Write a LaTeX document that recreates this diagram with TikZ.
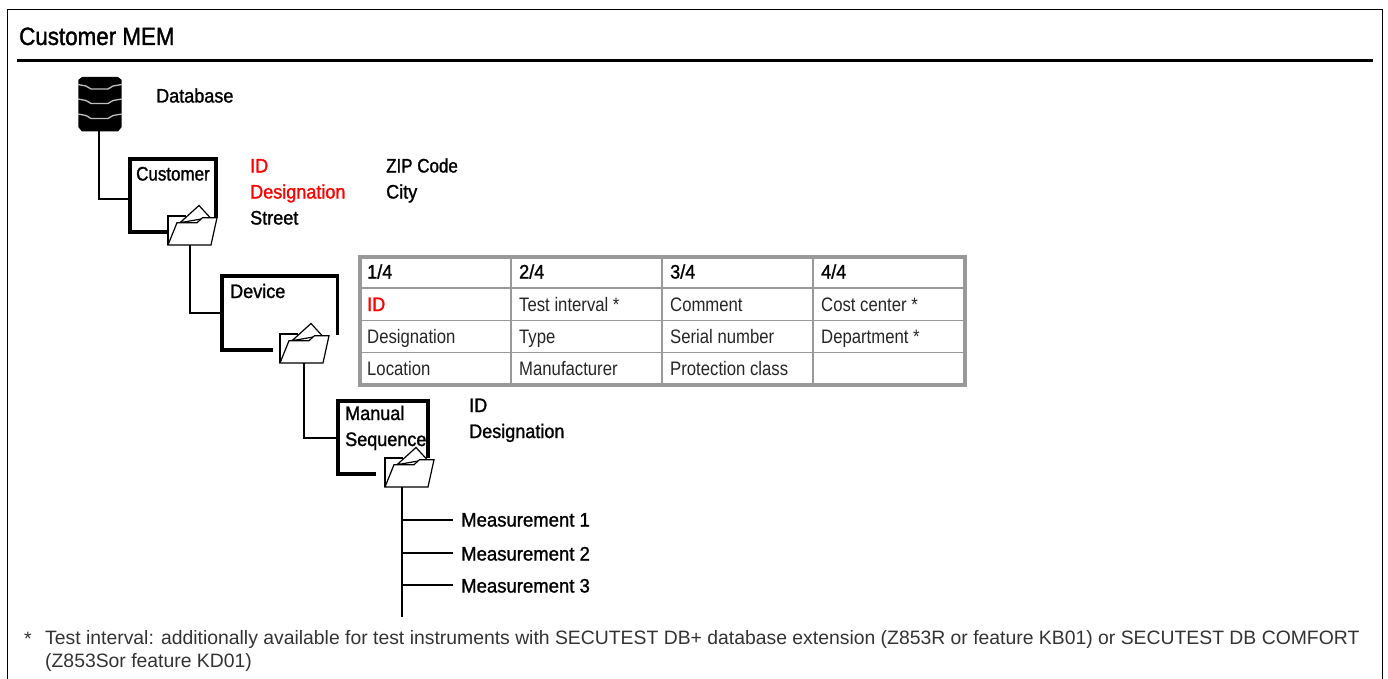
\documentclass[tikz,border=0pt]{standalone}
\usepackage{fontspec}
\setmainfont{Liberation Sans}
\newfontfamily\lblfont[FakeStretch=0.925,FakeBold=1.3]{Liberation Sans}
\newfontfamily\lblnarrow[FakeStretch=0.87,FakeBold=1.3]{Liberation Sans}
\newfontfamily\lblwide[FakeStretch=0.95,FakeBold=1.3]{Liberation Sans}
\newfontfamily\titlefont[FakeStretch=0.895,FakeBold=1.5]{Liberation Sans}
\newfontfamily\cellfont[FakeStretch=0.857]{Liberation Sans}
\definecolor{tablegray}{HTML}{999999}
\definecolor{idred}{HTML}{FF0000}
\tikzset{
  lbl/.style={anchor=base west,inner sep=0pt,font=\lblfont\fontsize{19.5}{21}\selectfont,text=black},
  lblnar/.style={lbl,font=\lblnarrow\fontsize{19.5}{21}\selectfont},
  lblwid/.style={lbl,font=\lblwide\fontsize{19.5}{21}\selectfont},
  redlbl/.style={lbl,text=idred},
  cell/.style={lbl,font=\cellfont\fontsize{19.5}{21}\selectfont,text=black!85},
  notetxt/.style={lbl,font=\fontsize{19.37}{21}\selectfont,text=black!80},
  thick1/.style={line width=3.2pt,line cap=butt,line join=miter},
  conn/.style={line width=2pt,line join=miter},
  folderline/.style={line width=1.2pt,line join=miter,fill=white},
  gridthin/.style={draw=tablegray,line width=1.2pt},
  gridthick/.style={draw=tablegray,line width=2.4pt},
  gridouter/.style={draw=tablegray,line width=4pt},
  pics/folder/.style={code={
    \draw[line width=2pt,fill=white] (0,29) -- (0,0) -- (18,0);
    \draw[folderline] (12,6.7) -- (31,-10.5) -- (42,1.5) -- cycle;
    \draw[folderline] (0,29) -- (9,6.7) -- (29,6.7) -- (34.5,1.7) -- (49,1.7) -- (43,29) -- cycle;
  }}
}
\begin{document}
\begin{tikzpicture}[x=1pt,y=-1pt]
\useasboundingbox (0,0) rectangle (1388,679);
% frame
\draw[line width=1.3pt] (7.5,690) -- (7.5,9.5) -- (1382.5,9.5) -- (1382.5,690);
\draw[line width=3.2pt] (17,60.5) -- (1372.5,60.5);
\node[lbl,font=\titlefont\fontsize{25}{27}\selectfont] (title) at (19,45) {Customer MEM};
% database icon
\coordinate (dbbot) at (99,131.5);
\fill[black] (78.3,80) -- (82,77) -- (118,77) -- (121.7,80) -- (121.7,127) -- (118,131.5) -- (82,131.5) -- (78.3,127) -- cycle;
\foreach \yy in {84.5,99,114}{
  \draw[white!75!black,line width=1.3pt] (78,\yy) -- (86,\yy+1.5) -- (91,\yy+4.5) -- (108,\yy+4.5) -- (113,\yy+1.5) -- (122,\yy);
}
\node[lbl] (db) at (156,102.5) {Database};
% boxes
\coordinate (custL) at (130,199);
\coordinate (devL) at (222,313);
\coordinate (manL) at (338,438);
\draw[thick1] (168,232) -- (130,232) -- (130,159) -- (216,159) -- (216,218);
\draw[thick1] (273,350) -- (222,350) -- (222,276) -- (337.5,276) -- (337.5,335);
\draw[thick1] (376,474) -- (338,474) -- (338,401) -- (428,401) -- (428,458);
\node[lblnar] (cust) at (136,180.5) {Customer};
\node[lbl] (dev) at (230,298) {Device};
\node[lbl] (man1) at (345,420) {Manual};
\node[lbl] (man2) at (345,446) {Sequence};
% folders
\pic at (168,216) {folder};
\pic at (280,334) {folder};
\pic at (385,458) {folder};
\coordinate (f1) at (190,245);
\coordinate (f2) at (304,363);
\coordinate (f3) at (402,487);
% connectors
\draw[conn] (dbbot) |- (custL);
\draw[conn] (f1) |- (devL);
\draw[conn] (f2) |- (manL);
\coordinate (trunkend) at (402,617);
\draw[conn] (f3) -- (trunkend);
\coordinate (b1) at (402,520);
\coordinate (b2) at (402,553);
\coordinate (b3) at (402,585);
\node[lblwid] (m1) at (461,526.5) {Measurement 1};
\node[lblwid] (m2) at (461,560.5) {Measurement 2};
\node[lblwid] (m3) at (461,592.5) {Measurement 3};
\draw[conn] (b1) -- (453,520);
\draw[conn] (b2) -- (453,553);
\draw[conn] (b3) -- (453,585);
% customer fields
\node[redlbl] (cid) at (250,172.5) {ID};
\node[redlbl] (cdes) at (250,198.5) {Designation};
\node[lbl] (cstr) at (250,224.5) {Street};
\node[lblnar] (czip) at (386,172.5) {ZIP Code};
\node[lbl] (ccity) at (386,198.5) {City};
% manual fields
\node[lbl] (mid) at (469,412) {ID};
\node[lbl] (mdes) at (469,438) {Designation};
% table
\draw[gridthin] (511,257) -- (511,384);
\draw[gridthin] (662,257) -- (662,384);
\draw[gridthin] (813,257) -- (813,384);
\draw[gridthick] (360,288) -- (965,288);
\draw[gridthin] (360,320.5) -- (965,320.5);
\draw[gridthin] (360,352.5) -- (965,352.5);
\draw[gridouter] (359.5,256.5) rectangle (965,385);
\node[lbl] (t11) at (367,278.5) {1/4};
\node[lbl] (t12) at (519,278.5) {2/4};
\node[lbl] (t13) at (670,278.5) {3/4};
\node[lbl] (t14) at (821,278.5) {4/4};
\node[redlbl] (t21) at (367,311) {ID};
\node[cell] (t22) at (519,311) {Test interval *};
\node[cell] (t23) at (670,311) {Comment};
\node[cell] (t24) at (821,311) {Cost center *};
\node[cell] (t31) at (367,343) {Designation};
\node[cell] (t32) at (519,343) {Type};
\node[cell] (t33) at (670,343) {Serial number};
\node[cell] (t34) at (821,343) {Department *};
\node[cell] (t41) at (367,375) {Location};
\node[cell] (t42) at (519,375) {Manufacturer};
\node[cell] (t43) at (670,375) {Protection class};
% footnote
\node[notetxt] (star) at (24,645) {*};
\node[notetxt] (n1) at (45,644.5) {Test interval: additionally available for test instruments with SECUTEST DB+ database extension (Z853R or feature KB01) or SECUTEST DB COMFORT};
\node[notetxt] (n2) at (45,667) {(Z853Sor feature KD01)};
\end{tikzpicture}
\end{document}
